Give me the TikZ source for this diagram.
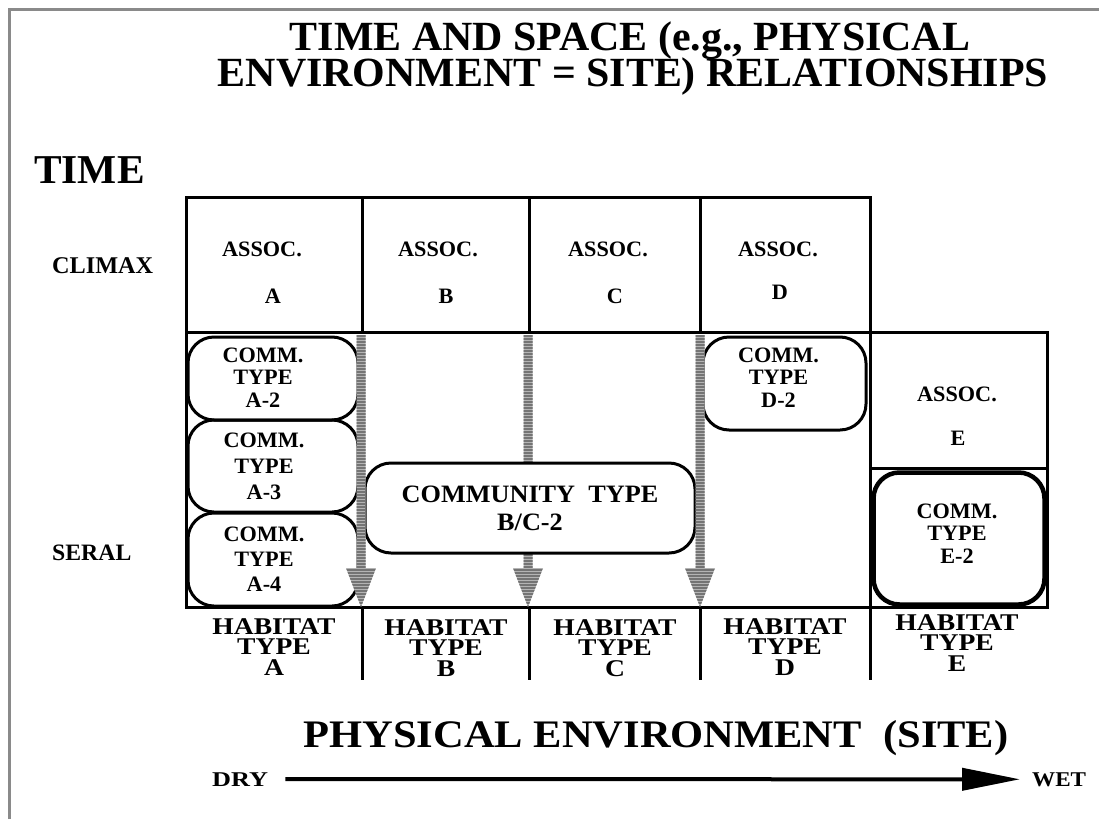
\documentclass[tikz,border=0pt]{standalone}
\usepackage{fontspec}
\setmainfont{Liberation Serif}[BoldFont={Liberation Serif Bold}]
\usetikzlibrary{arrows.meta}
\definecolor{framegray}{HTML}{8A8A8A}
\definecolor{stripelight}{HTML}{B4B4B4}
\definecolor{stripedark}{HTML}{747474}
\newcommand\stripedarrow[3]{%
  \begin{scope}
    \clip (#1-4.5,#2) rectangle (#1+4.5,#3-39)
          (#1-15,#3-39) -- (#1+15,#3-39) -- (#1,#3) -- cycle;
    \fill[stripelight] (#1-16,#2) rectangle (#1+16,#3);
    \foreach \k in {0,...,95}
      \draw[stripedark, line width=1.5pt] (#1-16,#2+1+3*\k) -- (#1+16,#2+1+3*\k);
  \end{scope}}
\newcommand\widen[1]{\addfontfeature{FakeStretch=#1}}
\tikzset{
  gridline/.style={line width=3pt},
  cell/.style={draw, line width=3pt, inner sep=0pt, minimum width=#1, minimum height=135pt},
  txt/.style={inner sep=0pt, font=\fontsize{22}{22}\selectfont\bfseries\widen{1.01}},
  commbox/.style={draw, line width=3pt, rounded corners=26pt, inner sep=0pt},
  commtxt/.style={inner sep=0pt, align=center, font=\fontsize{22}{#1}\selectfont\bfseries\widen{1.01}},
  habtxt/.style={inner sep=0pt, anchor=north, align=center,
    font=\fontsize{24}{20.5}\selectfont\bfseries\widen{1.15}},
  titletxt/.style={inner sep=0pt, anchor=base, font=\fontsize{41.5}{41.5}\selectfont\bfseries\widen{1.01}},
}
\begin{document}
\begin{tikzpicture}[x=1pt,y=-1pt]
\useasboundingbox (0,0) rectangle (1099,819);
\fill[white] (0,0) rectangle (1099,819);
% frame
\draw[framegray, line width=3pt] (9,819) -- (9,9) -- (1099,9);
% titles
\node[titletxt] (title1) at (630,50) {TIME AND SPACE (e.g., PHYSICAL};
\node[titletxt] (title2) at (633,86) {ENVIRONMENT = SITE) RELATIONSHIPS};
\node[inner sep=0pt, anchor=base west, font=\fontsize{41}{41}\selectfont\bfseries\widen{1.01}] (time) at (34,183) {TIME};
\node[inner sep=0pt, anchor=base west, font=\fontsize{24}{24}\selectfont\bfseries\widen{1.01}] (climax) at (52,273) {CLIMAX};
\node[inner sep=0pt, anchor=base west, font=\fontsize{23.5}{23.5}\selectfont\bfseries\widen{1.01}] (seral) at (52,560) {SERAL};
% climax cells
\node[cell=176pt] (cA) at (274,264.5) {};
\node[cell=167pt] (cB) at (445.5,264.5) {};
\node[cell=171pt] (cC) at (614.5,264.5) {};
\node[cell=170pt] (cD) at (785,264.5) {};
\node[txt, anchor=base] (asA) at (262,256) {ASSOC.};
\node[txt, anchor=base] (ltA) at (273,303) {A};
\node[txt, anchor=base] (asB) at (438,256) {ASSOC.};
\node[txt, anchor=base] (ltB) at (446,303) {B};
\node[txt, anchor=base] (asC) at (608,256) {ASSOC.};
\node[txt, anchor=base] (ltC) at (615,303) {C};
\node[txt, anchor=base] (asD) at (778,256) {ASSOC.};
\node[txt, anchor=base] (ltD) at (780,299) {D};
% seral region
\draw[gridline] (186,332) rectangle (1047,607);
\draw[gridline] (870,332) -- (870,607);
\draw[gridline] (870,468) -- (1047,468);
\node[txt, anchor=base] (asE) at (957,401) {ASSOC.};
\node[txt, anchor=base] (ltE) at (958,445) {E};
% habitat dividers
\foreach \xx in {362,529,700,870}
  \draw[gridline] (\xx,607) -- (\xx,680);
% arrow B->C (behind community box)
\stripedarrow{528}{335}{607}
% community boxes
\node[commbox, minimum width=170pt, minimum height=83pt] (A2) at (273,378.5) {};
\node[commbox, minimum width=170pt, minimum height=92pt] (A3) at (273,466) {};
\node[commbox, minimum width=170pt, minimum height=93pt] (A4) at (273,559.5) {};
\node[commbox, minimum width=163pt, minimum height=93pt, fill=white] (D2) at (784.5,383.5) {};
\node[commbox, minimum width=171pt, minimum height=132pt, line width=4.5pt] (E2) at (959,538.5) {};
\node[commbox, minimum width=330pt, minimum height=90pt, fill=white] (BC2) at (530,508) {};
\node[commtxt=22.5pt] (A2t) at ([xshift=-10pt, yshift=1pt]A2.center) {COMM.\\TYPE\\A-2};
\node[commtxt=26pt] (A3t) at ([xshift=-9pt]A3.center) {COMM.\\TYPE\\A-3};
\node[commtxt=25pt] (A4t) at ([xshift=-9pt]A4.center) {COMM.\\TYPE\\A-4};
\node[commtxt=22.5pt] (D2t) at ([xshift=-6pt, yshift=6pt]D2.center) {COMM.\\TYPE\\D-2};
\node[commtxt=22.5pt] (E2t) at ([xshift=-2pt, yshift=5pt]E2.center) {COMM.\\TYPE\\E-2};
\node[inner sep=0pt, align=center, font=\fontsize{25}{28}\selectfont\bfseries\widen{1.05}] (BC2t) at (BC2.center) {COMMUNITY\ \ TYPE\\B/C-2};
% gray arrows on top
\stripedarrow{361}{335}{607}
\stripedarrow{700}{335}{607}
% habitat labels
\node[habtxt] (hA) at (274,618) {HABITAT\\TYPE\\A};
\node[habtxt] (hB) at (446,619) {HABITAT\\TYPE\\B};
\node[habtxt] (hC) at (615,619) {HABITAT\\TYPE\\C};
\node[habtxt] (hD) at (785,618) {HABITAT\\TYPE\\D};
\node[habtxt] (hE) at (957,614) {HABITAT\\TYPE\\E};
% physical environment
\node[inner sep=0pt, anchor=base, font=\fontsize{39}{39}\selectfont\bfseries\widen{1.09}] (phys) at (656,747) {PHYSICAL ENVIRONMENT\ \ (SITE)};
\node[inner sep=0pt, anchor=base west, font=\fontsize{21}{21}\selectfont\bfseries\widen{1.25}] (dry) at (212,786) {DRY};
\node[inner sep=0pt, anchor=base west, font=\fontsize{21}{21}\selectfont\bfseries\widen{1.1}] (wet) at (1032,786) {WET};
\draw[line width=4pt, -{Triangle[length=58pt,width=22pt]}, shorten <=17pt, shorten >=12pt] (dry.east) -- (wet.west);
\end{tikzpicture}
\end{document}
